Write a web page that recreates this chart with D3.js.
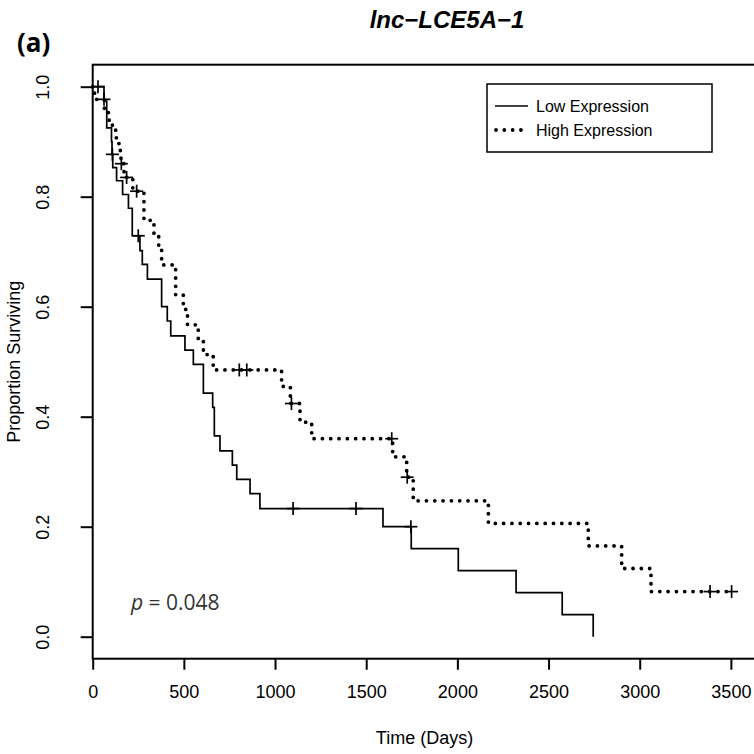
<!DOCTYPE html>
<html><head><meta charset="utf-8">
<script src="https://cdn.jsdelivr.net/npm/d3@7"></script>
<style>
body{margin:0;background:#fff;}
svg{display:block;}
text{font-family:"Liberation Sans",Arial,sans-serif;fill:#000;}
</style></head>
<body>
<svg id="chart" width="754" height="754"></svg>
<script>
// ---- data ----
const xTicks = [0, 500, 1000, 1500, 2000, 2500, 3000, 3500];
const yTicks = [0.0, 0.2, 0.4, 0.6, 0.8, 1.0];
const seriesNames = ["Low Expression", "High Expression"];

// Low expression: event times (days) and survival after each event
const lowTimes = [62, 77, 103, 106, 110, 131, 164, 196, 217, 259, 272, 300, 378, 409, 428, 506, 552, 607, 658, 667, 698, 766, 790, 863, 917, 1592, 1747, 2005, 2322, 2575, 2745];
const lowSurv  = [0.974, 0.925, 0.900, 0.877, 0.853, 0.829, 0.804, 0.779, 0.729, 0.702, 0.677, 0.650, 0.600, 0.574, 0.547, 0.521, 0.495, 0.443, 0.417, 0.365, 0.338, 0.312, 0.286, 0.260, 0.233, 0.200, 0.160, 0.120, 0.080, 0.040, 0.000];
const lowCensor = [29, 108, 250, 1099, 1444, 1745];
const lowEnd = 2745;

// High expression
const highTimes = [10, 64, 90, 126, 144, 155, 172, 220, 281, 336, 362, 378, 455, 497, 520, 579, 607, 661, 1036, 1084, 1137, 1201, 1645, 1722, 1758, 2170, 2718, 2901, 3062];
const highSurv  = [0.977, 0.953, 0.930, 0.907, 0.884, 0.860, 0.835, 0.810, 0.757, 0.730, 0.703, 0.676, 0.622, 0.595, 0.567, 0.540, 0.513, 0.485, 0.455, 0.424, 0.390, 0.360, 0.327, 0.290, 0.247, 0.206, 0.165, 0.124, 0.082];
const highCensor = [62, 157, 186, 241, 804, 845, 1090, 1640, 1725, 3386, 3504];
const highEnd = 3504;

const titleText = "lnc\u2212LCE5A\u22121";
const pText = "0.048";

// ---- layout ----
const svg = d3.select("#chart");
const x = d3.scaleLinear().domain([0, 3640]).range([92.7, 756.4]);
const y = d3.scaleLinear().domain([-0.04, 1.04]).range([658.7, 64.7]);

function stepPoints(times, surv, end) {
  const pts = [[0, 1]];
  times.forEach((t, i) => pts.push([t, surv[i]]));
  const last = pts[pts.length - 1];
  if (end > last[0]) pts.push([end, last[1]]);
  return pts;
}
function survAt(times, surv, t) {
  let s = 1;
  for (let i = 0; i < times.length; i++) { if (times[i] <= t) s = surv[i]; }
  return s;
}

const line = d3.line().x(d => x(d[0])).y(d => y(d[1])).curve(d3.curveStepAfter);

// frame
svg.append("rect").attr("x", x(0)).attr("y", y(1.04)).attr("width", x(3640) - x(0)).attr("height", y(-0.04) - y(1.04))
  .attr("fill", "none").attr("stroke", "#000").attr("stroke-width", 2);

// axes
const xAxis = svg.append("g").attr("transform", `translate(0,${y(-0.04)})`)
  .call(d3.axisBottom(x).tickValues(xTicks).tickSize(11).tickPadding(16).tickFormat(d3.format("d")));
xAxis.select(".domain").remove();
xAxis.selectAll("line").attr("stroke-width", 2);
xAxis.selectAll("text").style("font-size", "18px").attr("fill", "#000");

const yAxis = svg.append("g").attr("transform", `translate(${x(0)},0)`)
  .call(d3.axisLeft(y).tickValues(yTicks).tickSize(12).tickFormat(d3.format(".1f")));
yAxis.select(".domain").remove();
yAxis.selectAll("line").attr("stroke-width", 2);
yAxis.selectAll("text").attr("x", null).attr("dy", null)
  .attr("transform", "translate(-44,0) rotate(-90)")
  .attr("text-anchor", "middle").style("font-size", "18px").attr("fill", "#000");

// curves
const lowPts = stepPoints(lowTimes, lowSurv, lowEnd);
const highPts = stepPoints(highTimes, highSurv, highEnd);

svg.append("path").attr("d", line(lowPts)).attr("fill", "none").attr("stroke", "#000").attr("stroke-width", 1.7);
svg.append("path").attr("d", line(highPts)).attr("fill", "none").attr("stroke", "#000")
  .attr("stroke-width", 3.8).attr("stroke-linecap", "round").attr("stroke-dasharray", "0.01 8.3");

function censorMarks(times, tArr, sArr) {
  const g = svg.append("g").attr("stroke", "#000").attr("stroke-width", 1.7);
  times.forEach(t => {
    const cx = x(t), cy = y(survAt(tArr, sArr, t));
    g.append("line").attr("x1", cx - 6.5).attr("x2", cx + 6.5).attr("y1", cy).attr("y2", cy);
    g.append("line").attr("x1", cx).attr("x2", cx).attr("y1", cy - 6.5).attr("y2", cy + 6.5);
  });
}
censorMarks(lowCensor, lowTimes, lowSurv);
censorMarks(highCensor, highTimes, highSurv);

// legend
const lg = svg.append("g");
lg.append("rect").attr("x", 487).attr("y", 84).attr("width", 225).attr("height", 68)
  .attr("fill", "#fff").attr("stroke", "#000").attr("stroke-width", 1.5);
lg.append("line").attr("x1", 495).attr("x2", 528).attr("y1", 106).attr("y2", 106).attr("stroke", "#000").attr("stroke-width", 1.7);
lg.append("line").attr("x1", 496).attr("x2", 529).attr("y1", 130).attr("y2", 130).attr("stroke", "#000")
  .attr("stroke-width", 3.8).attr("stroke-linecap", "round").attr("stroke-dasharray", "0.01 8.3");
lg.selectAll("text.leg").data(seriesNames).enter().append("text")
  .attr("x", 536).attr("y", (d, i) => 112 + i * 24).style("font-size", "16px").text(d => d);

// titles
svg.append("text").attr("x", 447).attr("y", 28).attr("text-anchor", "middle")
  .style("font-size", "24px").style("font-weight", "bold").style("font-style", "italic").text(titleText);
svg.append("text").attr("x", 17).attr("y", 52)
  .style("font-family", "'Liberation Sans Narrow','Open Sans',sans-serif")
  .style("font-size", "26px").style("font-weight", "bold").text("(a)");
svg.append("text").attr("x", 424.5).attr("y", 744).attr("text-anchor", "middle").style("font-size", "18px").text("Time (Days)");
svg.append("text").attr("transform", `translate(20,${(y(1.04) + y(-0.04)) / 2}) rotate(-90)`).attr("text-anchor", "middle")
  .style("font-size", "18px").text("Proportion Surviving");

// p value
const pt = svg.append("text").attr("x", 131).attr("y", 610)
  .style("font-family", "'Open Sans',sans-serif").style("font-size", "21px").style("fill", "#333");
pt.append("tspan").style("font-style", "italic").style("fill", "#333").text("p");
pt.append("tspan").style("fill", "#333").text(" = " + pText);
</script>
</body></html>
